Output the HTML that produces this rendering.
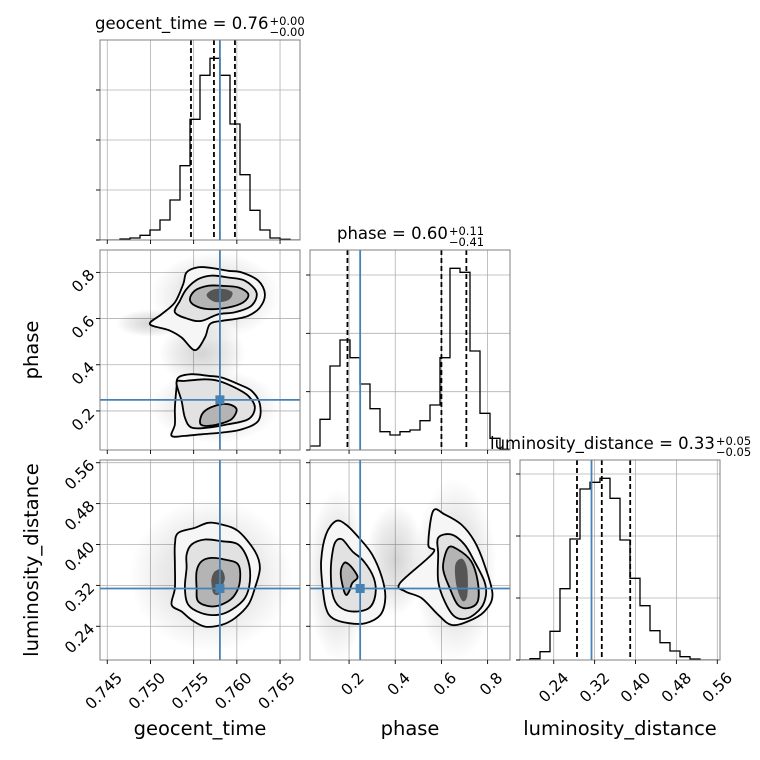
<!DOCTYPE html>
<html><head><meta charset="utf-8">
<style>
html,body{margin:0;padding:0;background:#fff;}
#wrap{position:relative;width:760px;height:760px;overflow:hidden;font-family:"DejaVu Sans","Liberation Sans",sans-serif;}
.ttl{position:absolute;font-size:16.5px;line-height:18px;white-space:nowrap;color:#000;}
.ss{display:inline-block;font-size:11.5px;line-height:11px;vertical-align:-7px;margin-left:1px;}
.ss span{display:block;}
</style></head>
<body>
<div id="wrap">
<svg id="svg" width="760" height="760" viewBox="0 0 760 760" xmlns="http://www.w3.org/2000/svg" style="position:absolute;left:0;top:0">
<defs>
<radialGradient id="cloud"><stop offset="0" stop-color="#000" stop-opacity="0.17"/><stop offset="0.6" stop-color="#000" stop-opacity="0.08"/><stop offset="1" stop-color="#000" stop-opacity="0"/></radialGradient>
</defs>
</svg>
<div class="ttl" style="left:95px;top:15px">geocent_time = 0.76<span class="ss"><span>+0.00</span><span>−0.00</span></span></div>
<div class="ttl" style="left:337px;top:225px">phase = 0.60<span class="ss"><span>+0.11</span><span>−0.41</span></span></div>
<div class="ttl" style="left:490px;top:435px">luminosity_distance = 0.33<span class="ss"><span>+0.05</span><span>−0.05</span></span></div>
</div>
<script>
// ---------- data ----------
const geoRange=[0.74416,0.76731];
const phaseRange=[0.0308,0.897];
const lumRange=[0.174,0.5653];
const geoTicks=[0.745,0.750,0.755,0.760,0.765];
const geoTickLabels=["0.745","0.750","0.755","0.760","0.765"];
const phaseTicks=[0.2,0.4,0.6,0.8];
const phaseTickLabels=["0.2","0.4","0.6","0.8"];
const lumTicks=[0.24,0.32,0.40,0.48,0.56];
const lumTickLabels=["0.24","0.32","0.40","0.48","0.56"];
const histMax=600;
const geoCounts=[0,0,3,6,14,30,60,120,223,362,494,545,494,348,196,89,30,6,2,0];
const phaseCounts=[12,92,252,330,277,198,124,55,45,55,60,88,135,277,545,533,297,110,35,2];
const lumCounts=[0,4,25,86,214,363,513,533,545,485,360,245,163,88,52,27,10,3,0,0];
const geoHistTicks=[0,150,300,450];
const phaseHistTicks=[0,175,350,525];
const lumHistTicks=[0,186,372,558];
const geoQuantiles=[0.75469,0.75735,0.75978];
const phaseQuantiles=[0.193,0.600,0.708];
const lumQuantiles=[0.2855,0.334,0.3896];
const truthGeo=0.75804, truthPhase=0.248, truthLum=0.3139;

// contours [x,y] in data units
const gpUpperOuter=[[0.74994,0.576],[0.75129,0.619],[0.75283,0.670],[0.75380,0.750],[0.75418,0.800],[0.75553,0.822],[0.75708,0.819],[0.75900,0.807],[0.76055,0.800],[0.76248,0.764],[0.76325,0.706],[0.76267,0.648],[0.76132,0.612],[0.75978,0.598],[0.75823,0.590],[0.75688,0.576],[0.75630,0.518],[0.75515,0.463],[0.75360,0.518],[0.75210,0.550]];
const gpUpperMid=[[0.75283,0.627],[0.75341,0.677],[0.75418,0.728],[0.75553,0.771],[0.75708,0.786],[0.75900,0.778],[0.76093,0.764],[0.76228,0.713],[0.76171,0.656],[0.75978,0.627],[0.75785,0.619],[0.75592,0.590],[0.75438,0.598]];
const gpUpperInner=[[0.75457,0.684],[0.75515,0.721],[0.75669,0.742],[0.75823,0.742],[0.76016,0.735],[0.76132,0.706],[0.76074,0.670],[0.75900,0.648],[0.75669,0.641],[0.75515,0.656]];
const gpUpperCore=[[0.75650,0.700],[0.75720,0.725],[0.75850,0.728],[0.75950,0.712],[0.75900,0.680],[0.75750,0.672]];
const gpLowerOuter=[[0.75302,0.301],[0.75322,0.345],[0.75476,0.359],[0.75669,0.352],[0.75823,0.345],[0.76016,0.316],[0.76171,0.287],[0.76267,0.229],[0.76248,0.157],[0.76055,0.120],[0.75823,0.106],[0.75592,0.099],[0.75399,0.092],[0.75245,0.092],[0.75283,0.142],[0.75283,0.214]];
const gpLowerMid=[[0.75302,0.323],[0.75399,0.330],[0.75630,0.337],[0.75785,0.330],[0.75978,0.301],[0.76132,0.265],[0.76209,0.214],[0.76132,0.164],[0.75900,0.142],[0.75669,0.128],[0.75476,0.128],[0.75399,0.171],[0.75360,0.243]];
const gpLowerInner=[[0.75573,0.149],[0.75611,0.193],[0.75746,0.222],[0.75900,0.229],[0.75997,0.207],[0.75939,0.164],[0.75785,0.142],[0.75630,0.135]];
const glOuter=[[0.75283,0.3999],[0.75322,0.4228],[0.75515,0.4326],[0.75669,0.4425],[0.75823,0.4392],[0.76016,0.4261],[0.76209,0.3868],[0.76267,0.3541],[0.76209,0.3148],[0.76132,0.2820],[0.75978,0.2558],[0.75823,0.2427],[0.75630,0.2394],[0.75476,0.2525],[0.75360,0.2689],[0.75245,0.2820],[0.75283,0.3148],[0.75283,0.3606]];
const glMid=[[0.75418,0.3802],[0.75476,0.3999],[0.75630,0.4097],[0.75823,0.4064],[0.76016,0.3999],[0.76132,0.3672],[0.76151,0.3279],[0.76093,0.2951],[0.75939,0.2722],[0.75785,0.2624],[0.75592,0.2656],[0.75438,0.2820],[0.75399,0.3148],[0.75418,0.3541]];
const glInner=[[0.75534,0.3475],[0.75592,0.3672],[0.75708,0.3737],[0.75862,0.3704],[0.76016,0.3606],[0.76035,0.3279],[0.75978,0.3017],[0.75862,0.2853],[0.75708,0.2787],[0.75553,0.2886],[0.75534,0.3148]];
const glCore=[[0.75708,0.3344],[0.75746,0.3475],[0.75823,0.3508],[0.75862,0.3344],[0.75823,0.3148],[0.75785,0.3017],[0.75727,0.3049],[0.75708,0.3213]];
const plLeftOuter=[[0.100,0.4195],[0.143,0.4457],[0.186,0.4392],[0.243,0.4130],[0.300,0.3802],[0.343,0.3344],[0.357,0.2951],[0.336,0.2624],[0.271,0.2460],[0.200,0.2460],[0.129,0.2558],[0.100,0.2755],[0.086,0.3148],[0.079,0.3672]];
const plLeftMid=[[0.129,0.3868],[0.143,0.4064],[0.171,0.4097],[0.214,0.3868],[0.264,0.3672],[0.307,0.3344],[0.314,0.3017],[0.286,0.2755],[0.214,0.2689],[0.157,0.2787],[0.129,0.3017],[0.121,0.3475]];
const plLeftInner=[[0.164,0.3475],[0.179,0.3639],[0.200,0.3606],[0.229,0.3442],[0.236,0.3344],[0.214,0.3246],[0.200,0.3082],[0.186,0.3017],[0.171,0.3213]];
const plRightOuter=[[0.564,0.4654],[0.614,0.4588],[0.686,0.4392],[0.743,0.4064],[0.786,0.3606],[0.821,0.3017],[0.786,0.2689],[0.714,0.2493],[0.643,0.2427],[0.586,0.2624],[0.514,0.2951],[0.443,0.3082],[0.421,0.3246],[0.564,0.3835],[0.543,0.3999]];
const plRightMid=[[0.586,0.4130],[0.643,0.4195],[0.700,0.3999],[0.743,0.3672],[0.786,0.3279],[0.793,0.3017],[0.771,0.2755],[0.714,0.2558],[0.657,0.2591],[0.614,0.2886],[0.586,0.3279],[0.586,0.3802]];
const plRightInner=[[0.629,0.3933],[0.671,0.3901],[0.729,0.3672],[0.757,0.3279],[0.757,0.2886],[0.714,0.2755],[0.671,0.2820],[0.636,0.3148],[0.607,0.3541]];
const plRightCore=[[0.660,0.360],[0.690,0.372],[0.712,0.350],[0.712,0.300],[0.690,0.290],[0.665,0.320]];
// scatter cloud envelopes [cx,cy,rx,ry]
const gpClouds=[[0.7575,0.70,0.0075,0.19],[0.7575,0.22,0.0075,0.16],[0.7560,0.45,0.005,0.14],[0.7500,0.58,0.004,0.06]];
const glClouds=[[0.7570,0.34,0.0095,0.15]];
const plClouds=[[0.15,0.34,0.13,0.17],[0.66,0.35,0.18,0.18],[0.40,0.37,0.13,0.11]];

// ---------- helpers ----------
const NS="http://www.w3.org/2000/svg";
const svg=document.getElementById('svg');
function mk(tag,parent){const e=document.createElementNS(NS,tag);parent.appendChild(e);return e;}
function scale(d,r){return v=>r[0]+(v-d[0])/(d[1]-d[0])*(r[1]-r[0]);}
const SZ=200;
function origin(col,row){return [100+col*210,40+row*210];}
function smoothPath(pts){
  const n=pts.length;let d="M"+pts[0][0].toFixed(1)+","+pts[0][1].toFixed(1);
  for(let i=0;i<n;i++){
    const p0=pts[(i-1+n)%n],p1=pts[i],p2=pts[(i+1)%n],p3=pts[(i+2)%n];
    const c1=[p1[0]+(p2[0]-p0[0])/6,p1[1]+(p2[1]-p0[1])/6];
    const c2=[p2[0]-(p3[0]-p1[0])/6,p2[1]-(p3[1]-p1[1])/6];
    d+="C"+c1[0].toFixed(1)+","+c1[1].toFixed(1)+" "+c2[0].toFixed(1)+","+c2[1].toFixed(1)+" "+p2[0].toFixed(1)+","+p2[1].toFixed(1);
  }
  return d+"Z";
}
let clipN=0;
function panelGroup(x0,y0,name){
  const g=mk('g',svg);
  
  
  const cp=mk('clipPath',svg.querySelector('defs'));cp.setAttribute('id','c'+(++clipN));
  const r=mk('rect',cp);r.setAttribute('x',x0);r.setAttribute('y',y0);r.setAttribute('width',SZ);r.setAttribute('height',SZ);
  const inner=mk('g',g);inner.setAttribute('clip-path','url(#c'+clipN+')');
  
  
  return [g,inner];
}
function gridV(parent,ticks,sx,y0){ticks.forEach(t=>{const l=mk('line',parent);l.setAttribute('x1',sx(t));l.setAttribute('x2',sx(t));l.setAttribute('y1',y0);l.setAttribute('y2',y0+SZ);l.setAttribute('stroke','#b0b0b0');l.setAttribute('stroke-width','0.8');
  
  });}
function gridH(parent,ticks,sy,x0){ticks.forEach(t=>{const l=mk('line',parent);l.setAttribute('y1',sy(t));l.setAttribute('y2',sy(t));l.setAttribute('x1',x0);l.setAttribute('x2',x0+SZ);l.setAttribute('stroke','#b0b0b0');l.setAttribute('stroke-width','0.8');
  
  });}
function frame(g,x0,y0){const r=mk('rect',g);r.setAttribute('x',x0);r.setAttribute('y',y0);r.setAttribute('width',SZ);r.setAttribute('height',SZ);r.setAttribute('fill','none');r.setAttribute('stroke','#808080');r.setAttribute('stroke-width','1');
  
  }
function xTicks(g,ticks,labels,sx,y0,showLabels){
  ticks.forEach((t,i)=>{const x=sx(t);const l=mk('line',g);l.setAttribute('x1',x);l.setAttribute('x2',x);l.setAttribute('y1',y0+SZ);l.setAttribute('y2',y0+SZ+4);l.setAttribute('stroke','#000');l.setAttribute('stroke-width','0.9');
    
    
    if(showLabels){const tx=mk('text',g);const ax=x+8,ay=y0+SZ+11;tx.setAttribute('x',ax);tx.setAttribute('y',ay);tx.setAttribute('text-anchor','end');tx.setAttribute('font-size','15.5');tx.setAttribute('transform','rotate(-45 '+ax+' '+ay+')');tx.setAttribute('dominant-baseline','hanging');tx.textContent=labels[i];
      
      }
  });
}
function yTicks(g,ticks,labels,sy,x0,showLabels){
  ticks.forEach((t,i)=>{const y=sy(t);const l=mk('line',g);l.setAttribute('x1',x0-4);l.setAttribute('x2',x0);l.setAttribute('y1',y);l.setAttribute('y2',y);l.setAttribute('stroke','#000');l.setAttribute('stroke-width','0.9');
    
    
    if(showLabels){const tx=mk('text',g);const ax=x0-8,ay=y+5;tx.setAttribute('x',ax);tx.setAttribute('y',ay);tx.setAttribute('text-anchor','end');tx.setAttribute('font-size','15.5');tx.setAttribute('transform','rotate(-45 '+ax+' '+(y)+')');tx.textContent=labels[i];
      
      }
  });
}
function vline(parent,x,y0,color,dash,w){const l=mk('line',parent);l.setAttribute('x1',x);l.setAttribute('x2',x);l.setAttribute('y1',y0);l.setAttribute('y2',y0+SZ);l.setAttribute('stroke',color);l.setAttribute('stroke-width',w);if(dash)l.setAttribute('stroke-dasharray',dash);return l;}
function hline(parent,y,x0,color,w){const l=mk('line',parent);l.setAttribute('y1',y);l.setAttribute('y2',y);l.setAttribute('x1',x0);l.setAttribute('x2',x0+SZ);l.setAttribute('stroke',color);l.setAttribute('stroke-width',w);return l;}

function histPanel(col,row,name,range,counts,hticks,ticks,labels,quants,truth,showX){
  const [x0,y0]=origin(col,row);const [g,inner]=panelGroup(x0,y0,name);
  const sx=scale(range,[x0,x0+SZ]);const sy=scale([0,histMax],[y0+SZ,y0]);
  gridV(inner,ticks,sx,y0);gridH(inner,hticks,sy,x0);
  const n=counts.length;const edge=i=>range[0]+(range[1]-range[0])*i/n;
  let d="M"+sx(edge(0))+","+sy(0);
  counts.forEach((c,i)=>{d+="L"+sx(edge(i))+","+sy(c)+"L"+sx(edge(i+1))+","+sy(c);});
  d+="L"+sx(edge(n))+","+sy(0);
  const p=mk('path',inner);p.setAttribute('d',d);p.setAttribute('fill','none');p.setAttribute('stroke','#000');p.setAttribute('stroke-width','1.3');
  
  
  quants.forEach(q=>{const l=vline(inner,sx(q),y0,'#000','5,3','1.8');
    
    });
  const tl=vline(inner,sx(truth),y0,'#4682b4',null,'1.8');
  
  
  frame(g,x0,y0);xTicks(g,ticks,labels,sx,y0,showX);yTicks(g,hticks.slice(1),[],sy,x0,false);
  const l0=mk('line',g);l0.setAttribute('x1',x0-4);l0.setAttribute('x2',x0);l0.setAttribute('y1',y0+SZ);l0.setAttribute('y2',y0+SZ);l0.setAttribute('stroke','#000');
}
const fills=['#f6f6f6','#e2e2e2','#b4b4b4','#555555'];
function scatterPanel(col,row,name,xr,yr,xt,xl,yt,yl,clouds,contours,levels,tx,ty,showX,showY){
  const [x0,y0]=origin(col,row);const [g,inner]=panelGroup(x0,y0,name);
  const sx=scale(xr,[x0,x0+SZ]);const sy=scale(yr,[y0+SZ,y0]);
  gridV(inner,xt,sx,y0);gridH(inner,yt,sy,x0);
  clouds.forEach(c=>{const e=mk('ellipse',inner);e.setAttribute('cx',sx(c[0]));e.setAttribute('cy',sy(c[1]));e.setAttribute('rx',Math.abs(sx(c[0]+c[2])-sx(c[0])));e.setAttribute('ry',Math.abs(sy(c[1]+c[3])-sy(c[1])));e.setAttribute('fill','url(#cloud)');
    
    });
  contours.forEach((c,i)=>{const pts=c.map(p=>[sx(p[0]),sy(p[1])]);const p=mk('path',inner);p.setAttribute('d',smoothPath(pts));p.setAttribute('fill',fills[levels[i]]);p.setAttribute('stroke',levels[i]<3?'#000':'none');p.setAttribute('stroke-width','1.8');p.setAttribute('stroke-linejoin','round');
    
    });
  const v=vline(inner,sx(tx),y0,'#4682b4',null,'1.8');
  
  
  const h=hline(inner,sy(ty),x0,'#4682b4','1.8');
  
  
  const s=mk('rect',inner);s.setAttribute('x',sx(tx)-4.5);s.setAttribute('y',sy(ty)-4.5);s.setAttribute('width',9);s.setAttribute('height',9);s.setAttribute('fill','#4682b4');
  
  
  frame(g,x0,y0);xTicks(g,xt,xl,sx,y0,showX);yTicks(g,yt,yl,sy,x0,showY);
}
function label(txt,x,y,rot,name){const t=mk('text',svg);t.setAttribute('x',x);t.setAttribute('y',y);t.setAttribute('text-anchor','middle');t.setAttribute('font-size','19.5');if(rot)t.setAttribute('transform','rotate(-90 '+x+' '+y+')');t.textContent=txt;
  
  }

histPanel(0,0,'geocent-time-hist',geoRange,geoCounts,geoHistTicks,geoTicks,geoTickLabels,geoQuantiles,truthGeo,false);
histPanel(1,1,'phase-hist',phaseRange,phaseCounts,phaseHistTicks,phaseTicks,phaseTickLabels,phaseQuantiles,truthPhase,false);
histPanel(2,2,'luminosity-distance-hist',lumRange,lumCounts,lumHistTicks,lumTicks,lumTickLabels,lumQuantiles,truthLum,true);
scatterPanel(0,1,'geocent-phase-2d',geoRange,phaseRange,geoTicks,geoTickLabels,phaseTicks,phaseTickLabels,gpClouds,
  [gpUpperOuter,gpUpperMid,gpUpperInner,gpUpperCore,gpLowerOuter,gpLowerMid,gpLowerInner],[0,1,2,3,0,1,2],truthGeo,truthPhase,false,true);
scatterPanel(0,2,'geocent-lum-2d',geoRange,lumRange,geoTicks,geoTickLabels,lumTicks,lumTickLabels,glClouds,
  [glOuter,glMid,glInner,glCore],[0,1,2,3],truthGeo,truthLum,true,true);
scatterPanel(1,2,'phase-lum-2d',phaseRange,lumRange,phaseTicks,phaseTickLabels,lumTicks,lumTickLabels,plClouds,
  [plLeftOuter,plLeftMid,plLeftInner,plRightOuter,plRightMid,plRightInner,plRightCore],[0,1,2,0,1,2,3],truthPhase,truthLum,true,false);
label('geocent_time',200,735,false,'x-axis-title-geocent-time');
label('phase',410,735,false,'x-axis-title-phase');
label('luminosity_distance',620,735,false,'x-axis-title-luminosity-distance');
label('phase',38,350,true,'y-axis-title-phase');
label('luminosity_distance',38,560,true,'y-axis-title-luminosity-distance');
</script>
</body></html>
